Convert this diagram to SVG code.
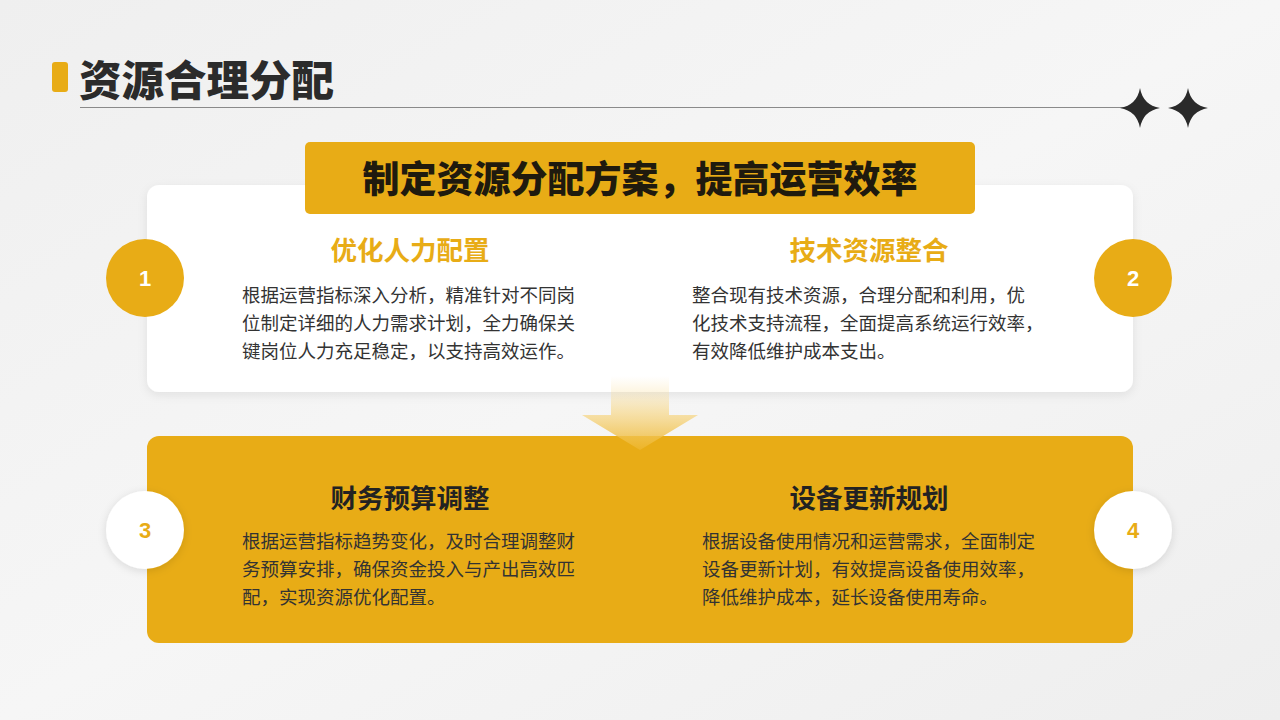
<svg xmlns="http://www.w3.org/2000/svg" width="1280" height="720" viewBox="0 0 1280 720">
<defs>
<linearGradient id="bg" x1="0" y1="0" x2="1" y2="1">
<stop offset="0" stop-color="#efefef"/>
<stop offset="0.5" stop-color="#f6f6f6"/>
<stop offset="1" stop-color="#eeeeee"/>
</linearGradient>
<linearGradient id="arrowGrad" x1="0" y1="0" x2="0" y2="1">
<stop offset="0" stop-color="#fbe3a8" stop-opacity="0"/>
<stop offset="0.5" stop-color="#f7d88a" stop-opacity="0.7"/>
<stop offset="1" stop-color="#edb52a" stop-opacity="0.9"/>
</linearGradient>
<filter id="shadow" x="-10%" y="-10%" width="120%" height="130%">
<feDropShadow dx="0" dy="3" stdDeviation="5" flood-color="#000" flood-opacity="0.08"/>
</filter>
<filter id="cshadow" x="-30%" y="-30%" width="160%" height="160%">
<feDropShadow dx="0" dy="2" stdDeviation="4" flood-color="#000" flood-opacity="0.12"/>
</filter>
</defs>
<style>
.cjk{font-family:"Noto Sans CJK SC","Noto Sans",sans-serif;}
.title{font-size:42.5px;font-weight:900;fill:#2b2b2b;}
.banner{font-size:37px;font-weight:900;fill:#1f1a0e;}
.h1{font-size:26.5px;font-weight:700;fill:#e8ac16;}
.h2{font-size:26.5px;font-weight:700;fill:#222;}
.body{font-size:18.5px;fill:#333;}
.num{font-family:"Liberation Sans",Arial,sans-serif;font-size:22px;font-weight:700;}
</style>
<rect width="1280" height="720" fill="url(#bg)"/>

<g id="header">
<rect x="52" y="62" width="16" height="30" rx="3" fill="#e8ac16"/>
<text class="cjk title" x="79" y="96">资源合理分配</text>
<line x1="80" y1="107.5" x2="1125" y2="107.5" stroke="#8a8a8a" stroke-width="1"/>
<path d="M1140,88 Q1143,105 1160,108 Q1143,111 1140,128 Q1137,111 1120,108 Q1137,105 1140,88 Z" fill="#2a2a2a"/>
<path d="M1188,88 Q1191,105 1208,108 Q1191,111 1188,128 Q1185,111 1168,108 Q1185,105 1188,88 Z" fill="#2a2a2a"/>
</g>

<g id="top-card">
<rect x="147" y="185" width="986" height="207" rx="12" fill="#ffffff" filter="url(#shadow)"/>
</g>

<g id="bottom-card">
<rect x="147" y="436" width="986" height="207" rx="12" fill="#e8ac16"/>
</g>

<g id="connectors">
<path d="M611,376 L669,376 L669,415 L698,415 L640,450 L582,415 L611,415 Z" fill="url(#arrowGrad)"/>
</g>

<g id="banner">
<rect x="305" y="142" width="670" height="72" rx="5" fill="#e8ac16"/>
<text class="cjk banner" x="640" y="193" text-anchor="middle">制定资源分配方案，提高运营效率</text>
</g>

<g id="node1">
<circle cx="145" cy="278" r="39" fill="#e8ac16"/>
<text class="num" x="145" y="286" text-anchor="middle" fill="#ffffff">1</text>
<text class="cjk h1" x="410" y="260" text-anchor="middle">优化人力配置</text>
<text class="cjk body" x="242" y="302">根据运营指标深入分析，精准针对不同岗</text>
<text class="cjk body" x="242" y="330">位制定详细的人力需求计划，全力确保关</text>
<text class="cjk body" x="242" y="358">键岗位人力充足稳定，以支持高效运作。</text>
</g>

<g id="node2">
<circle cx="1133" cy="278" r="39" fill="#e8ac16"/>
<text class="num" x="1133" y="286" text-anchor="middle" fill="#ffffff">2</text>
<text class="cjk h1" x="869" y="260" text-anchor="middle">技术资源整合</text>
<text class="cjk body" x="692" y="302">整合现有技术资源，合理分配和利用，优</text>
<text class="cjk body" x="692" y="330">化技术支持流程，全面提高系统运行效率，</text>
<text class="cjk body" x="692" y="358">有效降低维护成本支出。</text>
</g>

<g id="node3">
<circle cx="145" cy="530" r="39" fill="#ffffff" filter="url(#cshadow)"/>
<text class="num" x="145" y="538" text-anchor="middle" fill="#e8ac16">3</text>
<text class="cjk h2" x="410" y="508" text-anchor="middle">财务预算调整</text>
<text class="cjk body" x="242" y="548">根据运营指标趋势变化，及时合理调整财</text>
<text class="cjk body" x="242" y="576">务预算安排，确保资金投入与产出高效匹</text>
<text class="cjk body" x="242" y="604">配，实现资源优化配置。</text>
</g>

<g id="node4">
<circle cx="1133" cy="530" r="39" fill="#ffffff" filter="url(#cshadow)"/>
<text class="num" x="1133" y="538" text-anchor="middle" fill="#e8ac16">4</text>
<text class="cjk h2" x="869" y="508" text-anchor="middle">设备更新规划</text>
<text class="cjk body" x="702" y="548">根据设备使用情况和运营需求，全面制定</text>
<text class="cjk body" x="702" y="576">设备更新计划，有效提高设备使用效率，</text>
<text class="cjk body" x="702" y="604">降低维护成本，延长设备使用寿命。</text>
</g>
</svg>
